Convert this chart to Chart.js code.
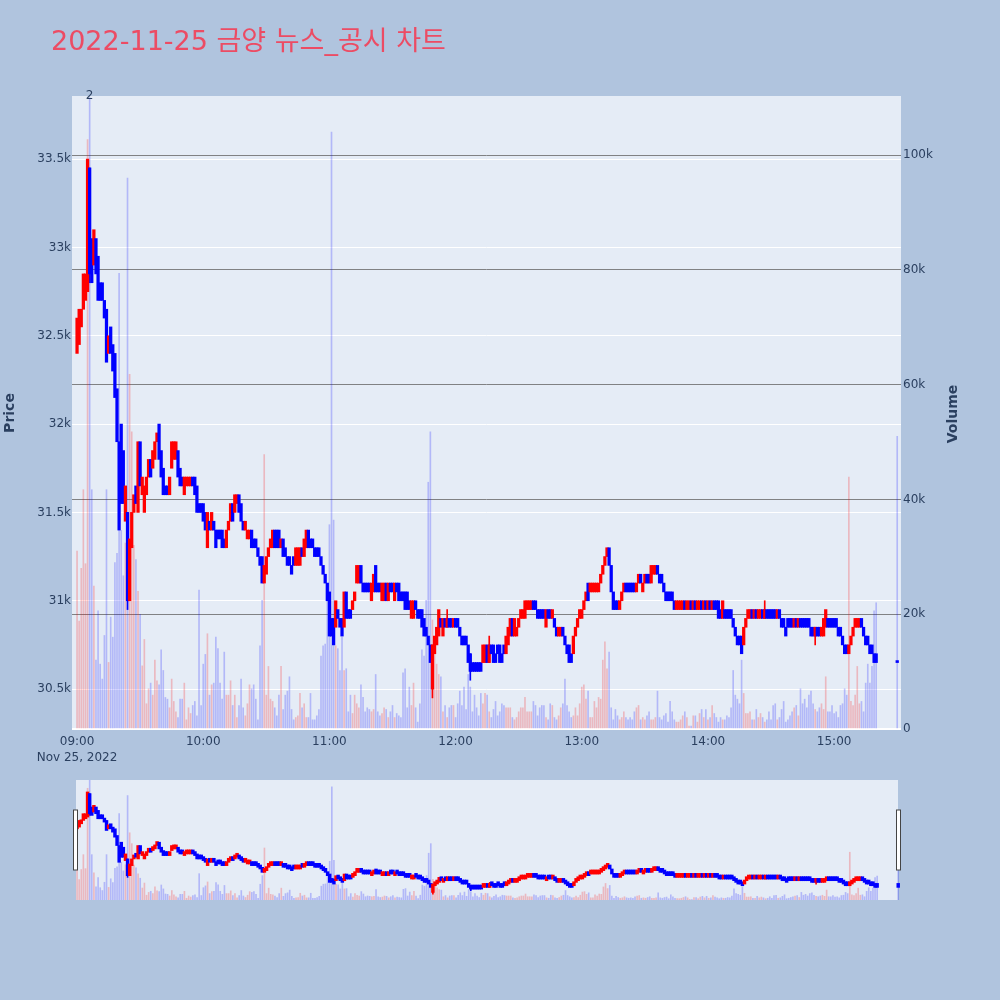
<!DOCTYPE html>
<html>
<head>
<meta charset="utf-8">
<script src="https://cdn.jsdelivr.net/npm/chart.js@4.4.1/dist/chart.umd.min.js"></script>
<style>
  html, body { margin: 0; padding: 0; background: #b0c4de; }
  #wrap { position: relative; width: 1000px; height: 1000px; }
  #main { position: absolute; left: 0; top: 0; }
  #slider { position: absolute; left: 72px; top: 780px; }
</style>
</head>
<body>
<div id="wrap">
  <canvas id="main" width="1000" height="1000"></canvas>
  <canvas id="slider" width="830" height="120"></canvas>
</div>
<script>
// data block: one candle per minute from 09:00 (minute 0) to 15:20, plus the 15:30 close
const chartTitle = '2022-11-25 금양 뉴스_공시 차트';
const sessionDate = 'Nov 25, 2022';
const minutes = Array.from({ length: 381 }, (_, i) => i).concat([390]);

const opens = [
  32400,32450,32550,32650,32700,32750,33450,33050,32900,33050,
  32950,32800,32800,32700,32650,32400,32550,32450,32400,32200,
  31900,32000,31850,31450,31500,31000,31300,31500,31650,31500,
  31900,31600,31500,31600,31700,31800,31750,31800,31900,32000,
  31850,31750,31650,31650,31600,31750,31800,31800,31850,31750,
  31700,31600,31650,31650,31650,31700,31700,31650,31550,31550,
  31550,31500,31300,31450,31400,31450,31400,31400,31400,31400,
  31350,31300,31400,31450,31550,31500,31550,31600,31550,31450,
  31400,31350,31350,31400,31350,31350,31300,31250,31250,31100,
  31150,31250,31300,31300,31400,31400,31400,31300,31350,31300,
  31250,31250,31200,31250,31200,31200,31200,31300,31250,31300,
  31400,31350,31350,31300,31300,31300,31250,31200,31150,31100,
  31050,30900,30900,30850,30950,30900,30900,30850,31050,30950,
  30950,30950,31000,31100,31100,31200,31100,31100,31100,31100,
  31000,31050,31200,31100,31100,31000,31000,31100,31000,31100,
  31100,31000,31100,31100,31050,31050,31050,31050,31000,30900,
  30900,31000,30950,30950,30950,30900,30850,30800,30750,30500,
  30700,30750,30800,30900,30800,30900,30850,30900,30900,30850,
  30900,30900,30850,30800,30800,30800,30750,30700,30650,30650,
  30650,30650,30650,30650,30650,30750,30650,30750,30750,30700,
  30750,30750,30700,30750,30700,30750,30800,30900,30800,30800,
  30850,30900,30900,30900,30950,30950,30950,31000,31000,30950,
  30950,30950,30950,30850,30950,30950,30900,30900,30850,30800,
  30800,30850,30800,30750,30750,30700,30700,30800,30850,30900,
  30900,30950,31000,31100,31050,31050,31050,31050,31050,31100,
  31150,31200,31250,31300,31200,31050,31000,31000,30950,31000,
  31050,31100,31100,31100,31100,31100,31050,31100,31150,31050,
  31100,31150,31150,31100,31150,31150,31200,31150,31150,31100,
  31050,31050,31050,31050,31000,30950,30950,30950,30950,31000,
  30950,30950,31000,30950,31000,30950,30950,31000,30950,31000,
  30950,31000,30950,31000,31000,31000,30950,30900,30950,30950,
  30950,30950,30900,30850,30800,30800,30800,30750,30850,30900,
  30900,30950,30900,30950,30900,30900,30950,30900,30950,30950,
  30950,30950,30950,30900,30950,30900,30900,30850,30900,30900,
  30900,30850,30900,30850,30900,30900,30900,30900,30900,30850,
  30850,30800,30850,30850,30800,30800,30850,30900,30900,30900,
  30900,30900,30850,30850,30800,30750,30750,30700,30750,30800,
  30850,30850,30850,30900,30850,30800,30800,30750,30750,30700,
  30700,30650
];

const closes = [
  32600,32650,32650,32850,32850,33500,32850,32800,33100,32850,
  32700,32700,32700,32600,32350,32500,32400,32300,32150,31900,
  31400,31550,31550,31650,31000,31350,31500,31600,31550,31900,
  31650,31700,31650,31700,31800,31700,31850,31900,31950,31800,
  31700,31600,31600,31600,31700,31900,31900,31900,31700,31650,
  31650,31700,31700,31700,31700,31650,31600,31500,31500,31500,
  31450,31400,31500,31400,31500,31400,31300,31350,31350,31300,
  31300,31400,31450,31550,31450,31600,31600,31500,31450,31400,
  31450,31400,31400,31300,31300,31300,31250,31200,31100,31200,
  31250,31300,31350,31400,31300,31300,31300,31350,31250,31250,
  31200,31200,31150,31200,31300,31300,31300,31250,31350,31400,
  31300,31300,31300,31250,31250,31250,31200,31150,31100,31000,
  30800,30800,30750,31000,30900,30850,30800,31050,30900,30900,
  30900,31000,31050,31200,31200,31100,31050,31050,31050,31050,
  31100,31150,31050,31050,31050,31100,31100,31000,31100,31050,
  31050,31100,31050,31000,31000,31000,30950,30950,30950,31000,
  31000,30950,30900,30900,30850,30800,30800,30750,30650,30750,
  30800,30850,30950,30850,30900,30850,30900,30850,30850,30900,
  30850,30850,30800,30750,30750,30750,30650,30600,30600,30600,
  30600,30600,30600,30750,30750,30650,30750,30700,30650,30650,
  30700,30650,30650,30700,30800,30850,30900,30800,30900,30850,
  30900,30950,30950,31000,31000,31000,31000,30950,30950,30900,
  30900,30900,30900,30950,30900,30900,30950,30850,30800,30850,
  30850,30800,30750,30700,30650,30650,30800,30850,30900,30950,
  30950,31000,31050,31000,31100,31100,31100,31100,31100,31150,
  31200,31250,31300,31200,31050,30950,30950,30950,31000,31050,
  31100,31050,31050,31050,31050,31050,31100,31150,31100,31100,
  31150,31100,31100,31200,31200,31200,31150,31100,31100,31050,
  31000,31000,31000,31000,30950,31000,31000,31000,31000,30950,
  31000,31000,30950,31000,30950,31000,31000,30950,31000,30950,
  31000,30950,31000,30950,30950,30900,30900,31000,30900,30900,
  30900,30900,30850,30800,30750,30750,30700,30850,30900,30950,
  30950,30900,30950,30900,30950,30950,30900,30950,30900,30900,
  30900,30900,30900,30950,30900,30850,30850,30800,30850,30850,
  30850,30900,30850,30900,30850,30850,30850,30850,30850,30800,
  30800,30850,30800,30800,30850,30900,30950,30850,30850,30850,
  30850,30850,30800,30800,30750,30700,30700,30750,30800,30850,
  30900,30900,30900,30850,30800,30750,30750,30700,30700,30650,
  30650,30650
];

const volumes = [
  31000,18800,28000,41700,28800,102700,110000,41700,24900,12000,
  20600,11300,8700,16300,41700,11600,19500,16000,29000,30600,
  79400,34600,26700,32400,96000,61800,51800,32000,29500,24000,
  20000,11000,15600,4400,7000,8000,5900,12000,8400,7700,
  13800,10200,5500,5200,3700,8700,4800,3000,2000,5200,
  5200,8000,1600,3700,2700,4100,4800,2300,24200,4100,
  11300,13000,16600,5900,7700,8000,16000,14000,8000,5200,
  13400,5900,5900,8400,4100,5900,2000,4100,8700,3700,
  2300,4400,7700,7000,7700,5200,1600,14500,22400,47800,
  5900,10900,5200,4800,3700,2300,5900,10900,
  3400,5900,6600,9100,3400,1600,2000,2300,6200,3700,
  4400,2000,2000,6200,1600,1600,2300,3400,12700,14500,
  14800,23400,35600,104000,36400,14500,14000,10200,16000,10200,
  10500,3000,5900,2700,5900,4400,3700,7700,5500,3000,
  3700,3400,3000,3400,9500,3000,2300,2700,3700,3400,
  2000,3000,4100,2000,2700,2300,2000,9800,10500,3700,
  7300,4100,8000,3700,1200,4400,13800,12700,22400,43000,
  51800,19000,15200,11300,9500,9100,3000,4100,2000,3700,
  4100,4100,2000,4400,6600,4100,7300,3400,9500,7300,
  3000,5900,3700,2300,6200,4400,6200,
  5900,3000,2000,3400,4800,2300,3000,4400,4100,3700,
  3700,3700,2000,1600,2000,3000,3700,3700,5500,3000,
  3000,3000,4800,4100,2300,3700,4100,4100,2000,1600,
  4400,4100,2000,1600,2300,3700,4400,8700,4100,3000,
  2000,2300,3700,2300,4400,7300,7700,5200,6600,2000,
  2000,4800,3700,5500,5200,12000,15200,10500,13400,3700,
  1600,3400,2300,1600,2000,3000,2000,1600,2000,1600,
  3000,3700,4100,1600,2000,1600,2300,3000,1600,1600,
  2000,6600,2000,1600,2300,2700,1200,4800,3000,1600,
  1200,1200,1600,2300,3000,2000,
  500,500,2300,2300,1200,2700,3400,2000,3400,1600,
  2000,4100,2700,2000,1200,2000,1600,1600,2300,2000,
  3700,10200,5900,5200,4400,12000,6200,2700,2700,3000,
  1600,1600,3400,2000,2700,2000,1200,1600,3000,1600,
  4100,4400,1600,2000,3400,4800,1200,1600,2300,3000,
  3700,4100,2300,7000,4400,5200,3700,5900,6600,4400,
  3400,3000,3700,4400,3400,9100,3000,3000,4100,2700,
  3000,2000,4100,4400,7000,5900,43900,4800,4100,5900,
  10900,4400,4800,3000,8000,11300,8000,10900,20600,22000,
  51000
];

// wicks that reach past the candle body
const wickMinutes = [6, 24, 169, 176, 187, 196, 327, 351];
const wickLows    = [32800, 30950, 30450, 30850, 30550, 30650, 30900, 30750];
const wickHighs   = [33450, 31500, 30750, 30950, 30700, 30800, 31000, 30850];

// news / disclosure marker
const newsMinutes = [6];
const newsLabels = ['2'];

// tick values
const hourTicks = [0, 60, 120, 180, 240, 300, 360];
const priceTicks = [30500, 31000, 31500, 32000, 32500, 33000, 33500];
const volumeTicks = [0, 20000, 40000, 60000, 80000, 100000];

const RED = '#ff0000', BLUE = '#0000ff';
const isUp = i => closes[i] > opens[i];

Chart.defaults.font.family = '"DejaVu Sans", sans-serif';
Chart.defaults.font.size = 12;
Chart.defaults.color = '#2a3f5f';

function makeDatasets(slider) {
  return [
    {
      label: 'Volume',
      yAxisID: 'y1',
      data: minutes.map((m, i) => ({ x: m, y: volumes[i] })),
      backgroundColor: minutes.map((m, i) => isUp(i) ? 'rgba(255,0,0,0.22)' : 'rgba(0,0,255,0.22)'),
      barThickness: 1,
      grouped: false,
      order: 3
    },
    {
      label: 'Wick',
      yAxisID: 'y',
      data: wickMinutes.map((m, k) => ({ x: m, y: [wickLows[k], wickHighs[k]] })),
      backgroundColor: wickMinutes.map(m => isUp(m) ? RED : BLUE),
      barThickness: 1,
      grouped: false,
      order: 2
    },
    {
      label: 'Price',
      yAxisID: 'y',
      data: minutes.map((m, i) => ({ x: m, y: [opens[i], closes[i]] })),
      backgroundColor: minutes.map((m, i) => isUp(i) ? RED : BLUE),
      barThickness: slider ? 2.8 : 2.6,
      minBarLength: slider ? 4 : 2,
      grouped: false,
      order: 1
    }
  ];
}

const fmtTime = v => {
  const h = 9 + Math.floor(v / 60), mm = v % 60;
  return String(h).padStart(2, '0') + ':' + String(mm).padStart(2, '0');
};

// plot background
const plotBg = {
  id: 'plotBg',
  beforeDraw(chart, args, opts) {
    const { ctx, chartArea: { left, top, right, bottom } } = chart;
    ctx.save();
    ctx.fillStyle = '#e5ecf6';
    const l = opts.left != null ? opts.left : left;
    const r = opts.right != null ? opts.right : right;
    ctx.fillRect(l, top, r - l, bottom - top);
    ctx.restore();
  }
};

// title, axis titles and news marker
const textLayer = {
  id: 'textLayer',
  afterDraw(chart) {
    const { ctx, chartArea } = chart;
    ctx.save();
    ctx.fillStyle = '#ec4c64';
    ctx.font = '27px "DejaVu Sans", "Noto Sans CJK KR", sans-serif';
    ctx.textBaseline = 'alphabetic';
    ctx.textAlign = 'left';
    ctx.fillText(chartTitle, 51, 50);

    ctx.fillStyle = '#2a3f5f';
    ctx.font = 'bold 14px "DejaVu Sans", sans-serif';
    ctx.textAlign = 'center';
    ctx.textBaseline = 'middle';
    [['Price', 10, 413], ['Volume', 953, 414]].forEach(([t, x, y]) => {
      ctx.save();
      ctx.translate(x, y);
      ctx.rotate(-Math.PI / 2);
      ctx.fillText(t, 0, 0);
      ctx.restore();
    });

    ctx.font = '12px "DejaVu Sans", sans-serif';
    newsMinutes.forEach((m, k) => {
      ctx.fillText(newsLabels[k], chart.scales.x.getPixelForValue(m), chartArea.top);
    });
    ctx.restore();
  }
};

new Chart(document.getElementById('main'), {
  type: 'bar',
  data: { datasets: makeDatasets(false) },
  options: {
    responsive: false,
    animation: false,
    devicePixelRatio: 1,
    layout: { padding: { top: 96, bottom: 221, left: 0, right: 0 } },
    plugins: {
      legend: { display: false },
      tooltip: { enabled: false },
      plotBg: {}
    },
    scales: {
      x: {
        type: 'linear',
        min: -2.4,
        max: 391.8,
        offset: false,
        grid: { display: false, drawTicks: false },
        border: { display: false },
        afterBuildTicks: s => { s.ticks = hourTicks.map(v => ({ value: v })); },
        afterFit: s => { s.height = 50; },
        ticks: {
          autoSkip: false,
          maxRotation: 0,
          padding: 5,
          font: { size: 12, lineHeight: 1.3 },
          callback: v => v === 0 ? [fmtTime(v), sessionDate] : fmtTime(v)
        }
      },
      y: {
        position: 'left',
        min: 30274,
        max: 33857,
        grid: { color: '#ffffff', lineWidth: 1, drawTicks: false },
        border: { display: false },
        afterBuildTicks: s => { s.ticks = priceTicks.map(v => ({ value: v })); },
        afterFit: s => { s.width = 72; },
        ticks: { padding: 1, callback: v => (v / 1000) + 'k' }
      },
      y1: {
        position: 'right',
        min: 0,
        max: 110300,
        grid: {
          color: c => c.tick && c.tick.value === 0 ? '#ffffff' : 'rgba(110,110,110,0.85)',
          lineWidth: c => c.tick && c.tick.value === 0 ? 2 : 1,
          drawTicks: false
        },
        border: { display: false },
        afterBuildTicks: s => { s.ticks = volumeTicks.map(v => ({ value: v })); },
        afterFit: s => { s.width = 99; },
        ticks: { padding: 2, callback: v => v === 0 ? '0' : (v / 1000) + 'k' }
      }
    }
  },
  plugins: [plotBg, textLayer]
});

// range slider: same traces, drawn small
const sliderHandles = {
  id: 'sliderHandles',
  afterDraw(chart) {
    const { ctx } = chart;
    ctx.save();
    ctx.fillStyle = '#ffffff';
    ctx.strokeStyle = '#444444';
    ctx.lineWidth = 1;
    [[1.5, 30], [824.5, 30]].forEach(([x, y]) => {
      ctx.fillRect(x, y, 4, 60);
      ctx.strokeRect(x, y, 4, 60);
    });
    ctx.restore();
  }
};

new Chart(document.getElementById('slider'), {
  type: 'bar',
  data: { datasets: makeDatasets(true) },
  options: {
    responsive: false,
    animation: false,
    devicePixelRatio: 1,
    layout: { padding: 0 },
    plugins: {
      legend: { display: false },
      tooltip: { enabled: false },
      plotBg: { left: 4, right: 826 }
    },
    scales: {
      x: { type: 'linear', display: false, min: -2.4, max: 391.8, offset: false },
      y: { display: false, min: 30274, max: 33857 },
      y1: { display: false, min: 0, max: 110300 }
    }
  },
  plugins: [plotBg, sliderHandles]
});
</script>
</body>
</html>
